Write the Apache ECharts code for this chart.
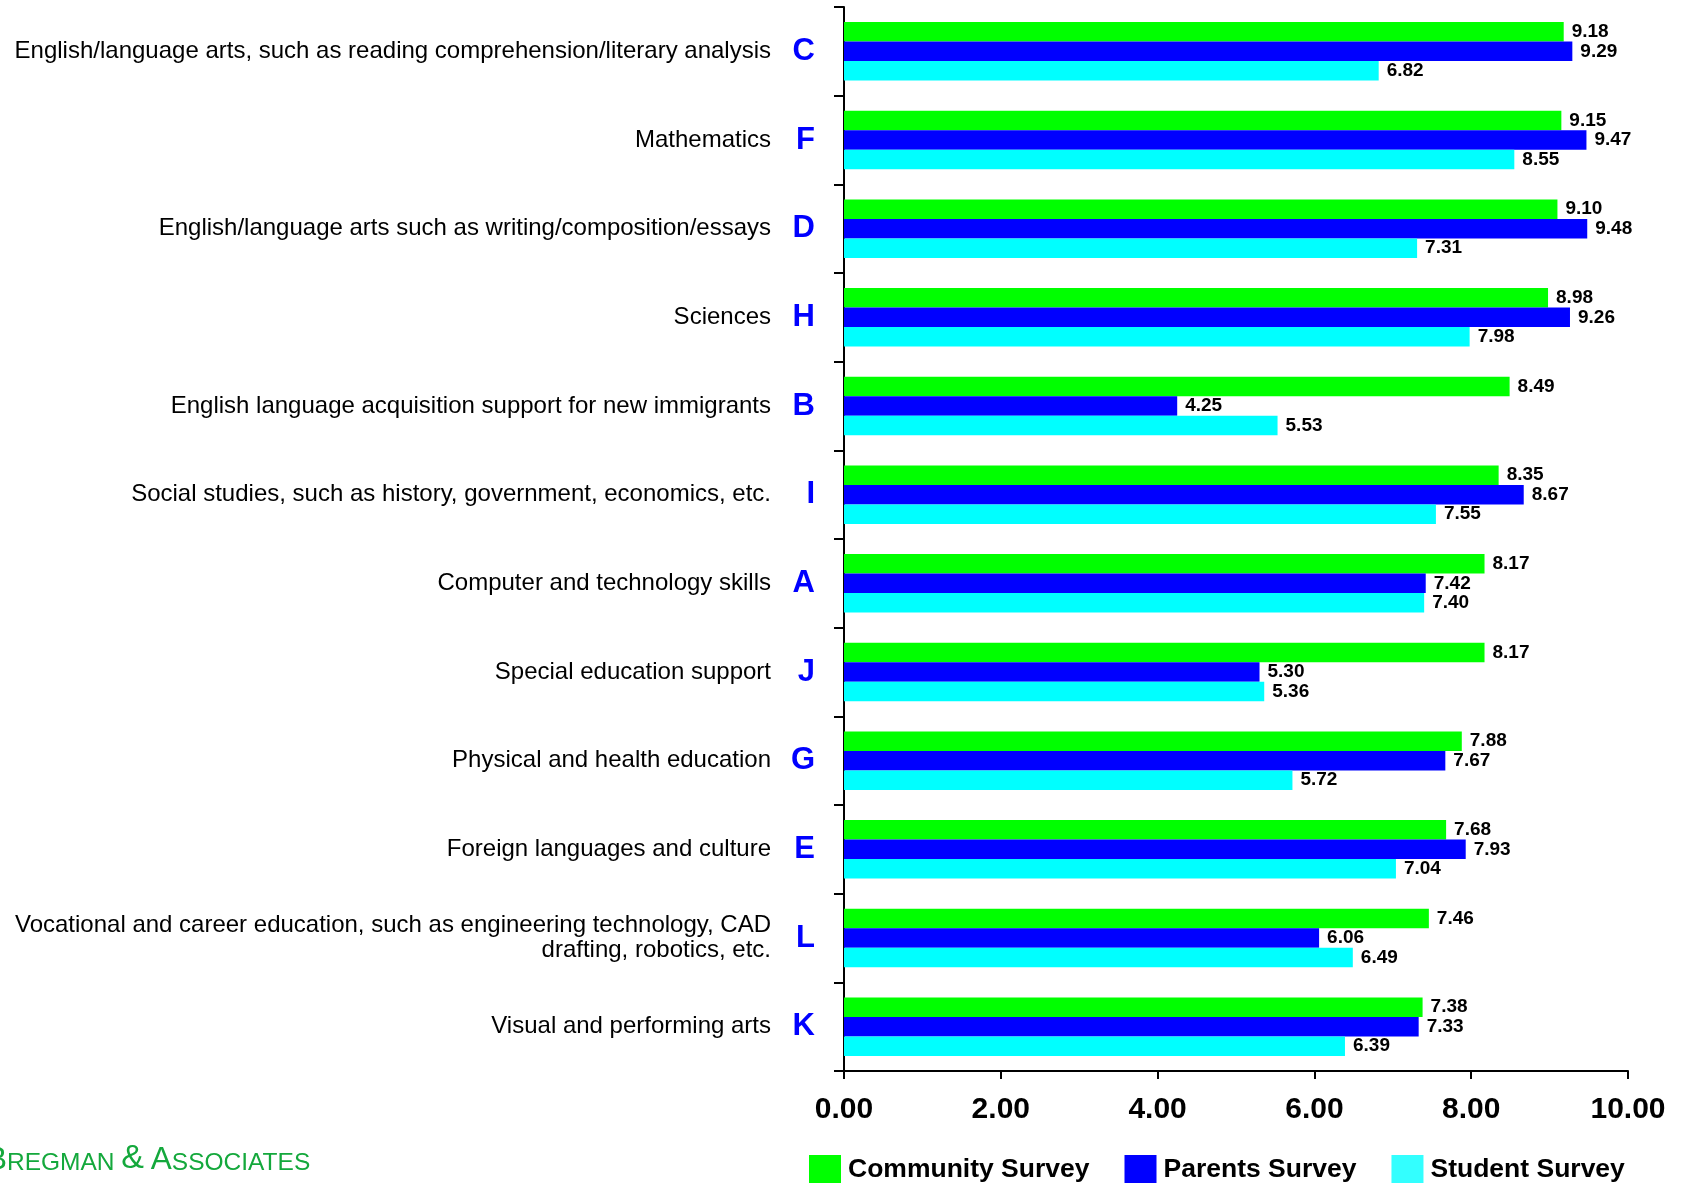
<!DOCTYPE html>
<html>
<head>
<meta charset="utf-8">
<script src="https://cdn.jsdelivr.net/npm/echarts@6/dist/echarts.min.js"></script>
<style>
  html, body { margin: 0; padding: 0; background: #fff; }
  #chart { width: 1686px; height: 1183px; }
</style>
</head>
<body>
<div id="chart"></div>
<script>
var letters = ['C', 'F', 'D', 'H', 'B', 'I', 'A', 'J', 'G', 'E', 'L', 'K'];
var names = [
  'English/language arts, such as reading comprehension/literary analysis',
  'Mathematics',
  'English/language arts such as writing/composition/essays',
  'Sciences',
  'English language acquisition support for new immigrants',
  'Social studies, such as history, government, economics, etc.',
  'Computer and technology skills',
  'Special education support',
  'Physical and health education',
  'Foreign languages and culture',
  'Vocational and career education, such as engineering technology, CAD\ndrafting, robotics, etc.',
  'Visual and performing arts'
];
var community = [9.18, 9.15, 9.10, 8.98, 8.49, 8.35, 8.17, 8.17, 7.88, 7.68, 7.46, 7.38];
var parents   = [9.29, 9.47, 9.48, 9.26, 4.25, 8.67, 7.42, 5.30, 7.67, 7.93, 6.06, 7.33];
var student   = [6.82, 8.55, 7.31, 7.98, 5.53, 7.55, 7.40, 5.36, 5.72, 7.04, 6.49, 6.39];
var xTicks = [0, 2, 4, 6, 8, 10];

var FONT = '"Liberation Sans", Arial, Helvetica, sans-serif';

var chart = echarts.init(document.getElementById('chart'));

function barSeries(name, data, color) {
  return {
    name: name,
    type: 'bar',
    data: data,
    yAxisIndex: 0,
    barGap: '0%',
    barCategoryGap: '34%',
    itemStyle: { color: color },
    label: {
      show: true,
      position: 'right',
      distance: 8,
      color: '#000',
      fontFamily: FONT,
      fontWeight: 'bold',
      fontSize: 19,
      formatter: function (p) { return p.value.toFixed(2); }
    }
  };
}

var option = {
  animation: false,
  backgroundColor: '#fff',
  grid: { left: 844, right: 58, top: 7, bottom: 112, containLabel: false },
  xAxis: {
    type: 'value',
    min: xTicks[0],
    max: xTicks[xTicks.length - 1],
    interval: 2,
    splitLine: { show: false },
    axisLine: { show: true, lineStyle: { color: '#000', width: 2 } },
    axisTick: { show: true, length: 8, lineStyle: { color: '#000', width: 2 } },
    axisLabel: {
      margin: 24,
      color: '#000',
      fontFamily: FONT,
      fontWeight: 'bold',
      fontSize: 30,
      formatter: function (v) { return v.toFixed(2); }
    }
  },
  yAxis: [
    {
      type: 'category',
      data: letters,
      inverse: true,
      position: 'left',
      axisLine: { show: true, lineStyle: { color: '#000', width: 2 } },
      axisTick: { show: true, length: 10, lineStyle: { color: '#000', width: 2 } },
      axisLabel: {
        margin: 29,
        color: '#0000ff',
        fontFamily: FONT,
        fontWeight: 'bold',
        fontSize: 31,
        padding: [2, 0, 0, 0]
      }
    },
    {
      type: 'category',
      data: names,
      inverse: true,
      position: 'left',
      offset: 0,
      axisLine: { show: false },
      axisTick: { show: false },
      axisLabel: {
        margin: 73,
        color: '#000',
        fontFamily: FONT,
        fontSize: 24,
        lineHeight: 25,
        align: 'right',
        padding: [5, 0, 0, 0]
      }
    }
  ],
  legend: {
    left: 804,
    top: 1150,
    itemWidth: 32,
    itemHeight: 30,
    itemGap: 35,
    icon: 'rect',
    textStyle: { color: '#000', fontFamily: FONT, fontWeight: 'bold', fontSize: 26.5, padding: [0, 0, 0, 2] },
    data: [
      { name: 'Community Survey', itemStyle: { color: '#00ff00' } },
      { name: 'Parents Survey', itemStyle: { color: '#0000ff' } },
      { name: 'Student Survey', itemStyle: { color: '#33ffff' } }
    ]
  },
  graphic: [
    {
      type: 'text',
      left: -14,
      top: 1142,
      style: {
        text: '{a|B}{b|REGMAN }{c|&}{b| }{a|A}{b|SSOCIATES}',
        fill: '#14a83c',
        rich: {
          a: { fontFamily: FONT, fontSize: 31.5, fill: '#14a83c', verticalAlign: 'bottom' },
          b: { fontFamily: FONT, fontSize: 24.5, fill: '#14a83c', verticalAlign: 'bottom' },
          c: { fontFamily: FONT, fontSize: 34, fill: '#14a83c', verticalAlign: 'bottom' }
        }
      }
    }
  ],
  series: [
    barSeries('Community Survey', community, '#00ff00'),
    barSeries('Parents Survey', parents, '#0000ff'),
    barSeries('Student Survey', student, '#00ffff')
  ]
};

chart.setOption(option);
</script>
</body>
</html>
